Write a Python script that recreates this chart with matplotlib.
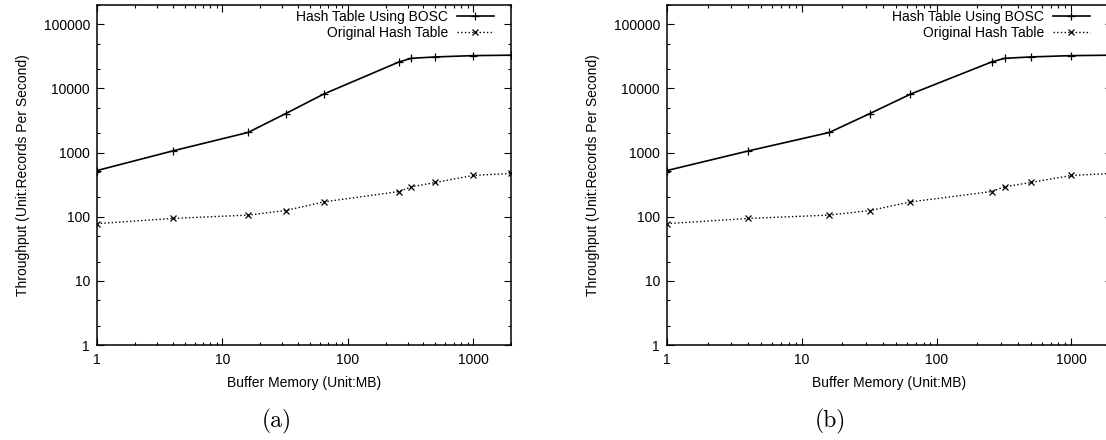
import matplotlib
matplotlib.use('Agg')
import matplotlib.pyplot as plt
import numpy as np
from matplotlib.ticker import LogLocator, NullFormatter, FixedLocator, FixedFormatter

plt.rcParams['font.family'] = ['Liberation Sans', 'DejaVu Sans']

# buffer memory (MB)
buffer_mb = [1, 4, 16, 32, 64, 256, 320, 500, 1000, 2000]
# throughput (records per second)
bosc = [525, 1060, 2060, 4060, 8150, 25900, 29500, 31000, 32500, 33000]
original = [78, 94, 106, 125, 170, 247, 293, 342, 440, 473]

x_ticks = [1, 10, 100, 1000]
y_ticks = [1, 10, 100, 1000, 10000, 100000]
panel_labels = ['(a)', '(b)']

W, H = 1106, 440
fig = plt.figure(figsize=(W / 100, H / 100), dpi=100)

# pixel boxes: left, right, top, bottom
boxes = [(97, 511, 5, 345), (667, 1112, 5, 345)]
legend_right = [494, 1090]
caption_x = [277, 830]

for (l, r, t, b), lab, cx, lr in zip(boxes, panel_labels, caption_x, legend_right):
    ax = fig.add_axes([l / W, (H - b) / H, (r - l) / W, (b - t) / H])
    ax.plot(buffer_mb, bosc, '-', color='black', lw=1.2, marker='+', ms=6,
            mew=0.9, label='Hash Table Using BOSC')
    ax.plot(buffer_mb, original, ':', color='black', lw=1.0, marker='x', ms=4.5,
            mew=0.9, label='Original Hash Table')
    ax.set_xscale('log')
    ax.set_yscale('log')
    ax.set_xlim(1, 2000)
    ax.set_ylim(1, 2e5)

    ax.xaxis.set_major_locator(FixedLocator(x_ticks))
    ax.xaxis.set_major_formatter(FixedFormatter([str(v) for v in x_ticks]))
    ax.xaxis.set_minor_locator(LogLocator(base=10, subs=np.arange(2, 10)))
    ax.xaxis.set_minor_formatter(NullFormatter())
    ax.yaxis.set_major_locator(FixedLocator(y_ticks))
    ax.yaxis.set_major_formatter(FixedFormatter([str(v) for v in y_ticks]))
    ax.yaxis.set_minor_locator(LogLocator(base=10, subs=[2, 5]))
    ax.yaxis.set_minor_formatter(NullFormatter())

    ax.tick_params(which='both', direction='in', top=True, right=True,
                   labelsize=10, color='black', width=0.8)
    ax.tick_params(which='major', length=5)
    ax.tick_params(axis='x', which='major', pad=6)
    ax.tick_params(axis='y', which='major', pad=5)
    ax.tick_params(which='minor', length=2.5)
    for s in ax.spines.values():
        s.set_linewidth(1.1)

    ax.set_xlabel('Buffer Memory (Unit:MB)', fontsize=10, labelpad=6)
    ax.set_ylabel('Throughput (Unit:Records Per Second)', fontsize=10, labelpad=10)

    ax.legend(loc='upper right', frameon=False, markerfirst=False, fontsize=10,
              handlelength=2.7, handletextpad=0.6, labelspacing=0.15,
              borderaxespad=0, borderpad=0,
              bbox_to_anchor=((lr - l) / (r - l), 1 - 5 / (b - t)))

    fig.text(cx / W, 1 - 421 / H, lab, ha='center', va='center',
             fontsize=17, family='cmr10')

fig.savefig('out.png', dpi=100)
